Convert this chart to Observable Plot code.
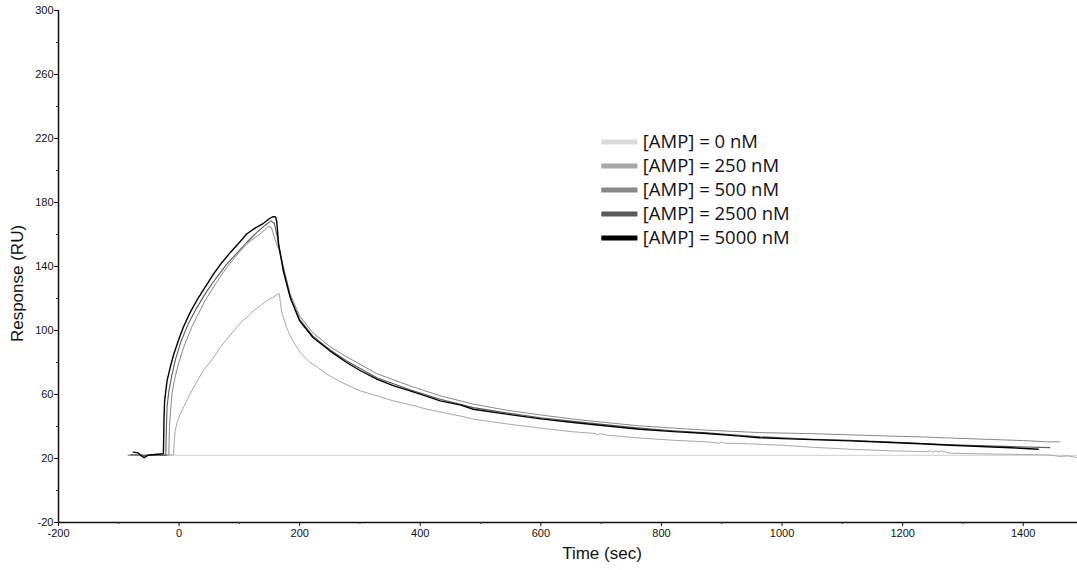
<!DOCTYPE html>
<html><head><meta charset="utf-8">
<script src="https://cdn.jsdelivr.net/npm/d3@7"></script>
<script src="https://cdn.jsdelivr.net/npm/@observablehq/plot@0.6"></script>
<style>body{margin:0;background:#fff} #chart svg{display:block}</style>
</head><body><div id="chart"></div>
<script>
const seriesLabels = ["[AMP] = 0 nM", "[AMP] = 250 nM", "[AMP] = 500 nM", "[AMP] = 2500 nM", "[AMP] = 5000 nM"];
const seriesColors = ["#d9d9d9", "#a8a8a8", "#888888", "#5a5a5a", "#000000"];
const xMajorTicks = [-200, 0, 200, 400, 600, 800, 1000, 1200, 1400];
const xMinorTicks = [-100, 100, 300, 500, 700, 900, 1100, 1300];
const yMajorTicks = [-20, 20, 60, 100, 140, 180, 220, 260, 300];
const yMinorTicks = [0, 40, 80, 120, 160, 200, 240, 280];

// [time (sec), response (RU)]
const amp0 = [[-85, 22], [1490, 22]];
const amp250 = [[-85, 22], [-9.4, 22.2], [-8, 30], [-6.6, 37.3], [-3, 43], [1.7, 47.7], [10, 54], [18, 60.2], [28, 67], [40, 74.8], [55, 82], [68, 89.4], [82, 96], [96, 102], [105, 106], [112, 108], [123, 112.4], [135, 115.5], [145, 118.6], [155, 120.5], [166, 123.2], [170, 112], [173, 108.2], [178, 102], [184, 97], [192, 91.5], [201, 86.3], [217, 80], [230, 77], [245, 72.7], [270, 67.5], [300, 62.3], [330, 59], [355, 56], [385, 53.5], [411, 50.8], [440, 48.5], [466, 46.6], [488, 44.6], [540, 41.8], [599, 39], [650, 36.8], [690, 35.6], [694, 34.6], [698, 35.6], [709, 34.6], [760, 32.9], [820, 31.4], [880, 30.3], [895, 29.5], [900, 30.3], [905, 29.5], [920, 29.5], [964, 28.9], [1000, 28.3], [1050, 27], [1113, 25.8], [1180, 24.8], [1240, 24.3], [1245, 24.9], [1250, 24], [1255, 24.9], [1260, 24], [1265, 24.9], [1270, 24], [1279, 23.3], [1350, 22.8], [1444, 22.2], [1460, 21.3], [1475, 21.6], [1490, 20.5]];
const amp500 = [[-84, 22], [-20, 22], [-17, 22.5], [-16, 40], [-14, 50], [-12, 60], [-8, 68.5], [-2, 78], [8, 90], [22, 103], [43, 118.6], [62, 130], [79, 139.4], [100, 149], [118, 156], [134, 160.3], [148, 165], [153, 164.5], [160, 156], [166, 150], [173, 140], [184, 123], [200, 109], [222, 98.5], [250, 90], [278, 83.5], [328, 73], [383, 65.4], [433, 59.2], [488, 54], [543, 50.2], [600, 47.2], [654, 44.6], [710, 42.4], [764, 40.4], [820, 39], [875, 37.7], [963, 36.2], [1050, 35.5], [1113, 34.8], [1180, 34], [1230, 33.5], [1279, 32.8], [1330, 32.1], [1400, 31.2], [1440, 30.4], [1461, 30.4]];
const amp2500 = [[-80, 22.5], [-60, 22], [-22, 22], [-21, 40], [-20, 52], [-17, 62], [-12, 72], [-6, 82], [3, 93], [15, 104], [29, 114], [45, 124], [60, 132], [78, 141], [95, 148], [112, 155], [128, 161], [142, 165.5], [152, 168.5], [158, 167], [163, 158], [168, 148], [175, 135], [186, 119], [200, 107], [222, 96.5], [250, 88], [278, 81], [328, 70.5], [383, 63], [433, 57], [488, 51.8], [543, 48.5], [600, 45.5], [654, 43.2], [710, 41], [764, 39], [820, 37.3], [875, 36], [963, 33.6], [1050, 32], [1113, 31.3], [1180, 30.3], [1279, 28.6], [1380, 27.4], [1444, 26.8]];
const amp5000 = [[-76, 24], [-68, 23.5], [-62, 21.5], [-58, 20.5], [-52, 22], [-40, 22.5], [-26, 23], [-25, 45], [-24, 56], [-20, 68.5], [-14, 78], [-9, 85], [0, 95], [7, 102], [18, 111], [29, 118.6], [43, 127], [57, 135.3], [70, 142], [85, 148.8], [100, 155], [112, 160.3], [126, 164], [140, 167], [150, 170], [156, 171.2], [160, 171], [162, 168], [165, 154], [173, 137], [184, 121], [200, 106], [222, 95.6], [250, 87.3], [278, 80], [300, 75], [328, 69.6], [355, 65.5], [383, 62.3], [410, 59], [433, 56], [466, 53.5], [488, 50.8], [543, 47.7], [600, 44.8], [654, 42.5], [710, 40.3], [764, 38.3], [820, 36.8], [875, 35.6], [920, 34.3], [963, 33], [1000, 32.4], [1050, 31.8], [1113, 31], [1180, 30], [1230, 29.2], [1279, 28.3], [1330, 27.5], [1380, 26.7], [1425, 25.8]];

const allSeries = [amp0, amp250, amp500, amp2500, amp5000];
const rows = allSeries.flatMap((pts, i) => pts.map(([t, r]) => ({t, r, s: seriesLabels[i]})));
const widths = [1.2, 1, 1, 1.1, 1.4];

// legend layout (data coordinates)
const legendTop = 217.8, legendStep = 15;

const lineMarks = seriesLabels.map((lab, i) =>
  Plot.line(rows.filter(d => d.s === lab), {x: "t", y: "r", stroke: seriesColors[i], strokeWidth: widths[i], curve: "linear"})
);

const tickFont = "Liberation Sans, Arial, sans-serif";
const plain = d => String(d);

const chart = Plot.plot({
  width: 1077, height: 570,
  marginLeft: 58, marginRight: 0, marginTop: 10, marginBottom: 48,
  style: {background: "#fff", color: "#111"},
  x: {domain: [-200, 1490], axis: null},
  y: {domain: [-20, 300], axis: null},
  marks: [
    ...lineMarks,
    Plot.ruleX([-200], {y1: -20, y2: 300, stroke: "#111", strokeWidth: 1.5}),
    Plot.ruleY([-20], {x1: -200, x2: 1490, stroke: "#111", strokeWidth: 1.5}),
    Plot.axisY(yMajorTicks, {anchor: "left", tickSize: 4, tickPadding: 1, fontSize: 11, fontFamily: tickFont, tickFormat: plain, label: null, stroke: "#111", fill: "#111"}),
    Plot.axisY(yMinorTicks, {anchor: "left", tickSize: 2, tickFormat: () => "", label: null, stroke: "#333"}),
    Plot.axisX(xMajorTicks, {anchor: "bottom", tickSize: 4, tickPadding: 3, fontSize: 11, fontFamily: tickFont, tickFormat: plain, label: null, stroke: "#111", fill: "#111"}),
    Plot.axisX(xMinorTicks, {anchor: "bottom", tickSize: 2, tickFormat: () => "", label: null, stroke: "#333"}),
    Plot.text(["Time (sec)"], {frameAnchor: "bottom", dx: 34, dy: 31, lineAnchor: "middle", fontSize: 17, fontFamily: tickFont, fill: "#111"}),
    Plot.text(["Response (RU)"], {frameAnchor: "left", rotate: -90, dx: -41, dy: 17, textAnchor: "middle", lineAnchor: "middle", fontSize: 17, fontFamily: tickFont, fill: "#111"}),
    Plot.ruleY(seriesLabels, {y: (d, i) => legendTop - i * legendStep, x1: 701, x2: 761, stroke: (d, i) => seriesColors[i], strokeWidth: 5}),
    Plot.text(seriesLabels, {x: 769, y: (d, i) => legendTop - i * legendStep, text: d => d, textAnchor: "start", lineAnchor: "middle", fontSize: 18.5, fontFamily: "Open Sans, sans-serif", fill: "#111"})
  ]
});
document.getElementById("chart").appendChild(chart);
</script>
</body></html>
